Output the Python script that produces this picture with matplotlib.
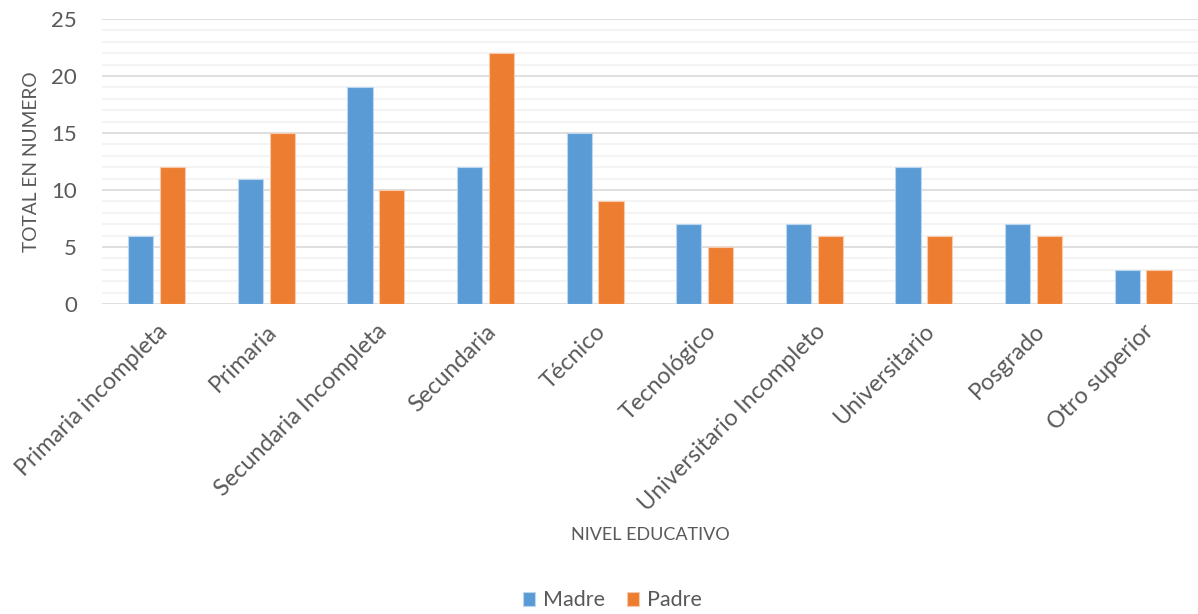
import numpy as np
import matplotlib.pyplot as plt
from matplotlib.ticker import MultipleLocator

# Data
niveles = ['Primaria incompleta', 'Primaria', 'Secundaria Incompleta', 'Secundaria',
           'Técnico', 'Tecnológico', 'Universitario Incompleto', 'Universitario',
           'Posgrado', 'Otro superior']
madre = [6, 11, 19, 12, 15, 7, 7, 12, 7, 3]
padre = [12, 15, 10, 22, 9, 5, 6, 6, 6, 3]

plt.rcParams['font.family'] = ['Lato', 'DejaVu Sans']
txt = '#595959'

fig = plt.figure(figsize=(11.98, 6.14), dpi=100)
ax = fig.add_axes([0.0851, 0.5049, 0.9149, 0.4642])

x = np.arange(len(niveles))
w = 0.23
ax.bar(x - 0.145, madre, w, color='#5B9BD5', edgecolor='#BDD7EE', linewidth=0.8, label='Madre', zorder=3)
ax.bar(x + 0.145, padre, w, color='#ED7D31', edgecolor='#F8CBAD', linewidth=0.8, label='Padre', zorder=3)

ax.set_xlim(-0.5, len(niveles) - 0.5)
ax.set_ylim(0, 25)
ax.yaxis.set_major_locator(MultipleLocator(5))
ax.yaxis.set_minor_locator(MultipleLocator(1))
ax.grid(axis='y', which='major', color='#D9D9D9', linewidth=1.2, zorder=0)
ax.grid(axis='y', which='minor', color='#F2F2F2', linewidth=1.2, zorder=0)
for s in ax.spines.values():
    s.set_visible(False)
ax.tick_params(axis='both', which='both', length=0)
ax.tick_params(axis='y', labelsize=16, labelcolor=txt, pad=18)

ax.set_xticks(x)
ax.set_xticklabels(niveles, rotation=45, ha='right', rotation_mode='anchor',
                   fontsize=16.8, color=txt)
ax.tick_params(axis='x', pad=12)

ax.set_ylabel('TOTAL EN NUMERO', fontsize=13.75, color=txt, labelpad=8)
fig.text(0.5426, 0.128, 'NIVEL EDUCATIVO', fontsize=13, color=txt, ha='center', va='center')

fig.legend(loc='center', bbox_to_anchor=(0.511, 0.022), ncol=2, frameon=False,
           fontsize=15.5, labelcolor=txt, handlelength=0.6, handleheight=0.6,
           handletextpad=0.35, columnspacing=1.0)

fig.savefig('out.png', dpi=100)
